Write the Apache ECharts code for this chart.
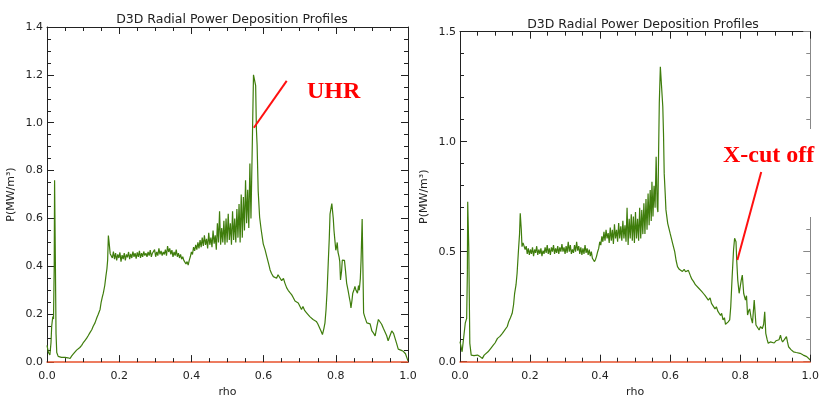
<!DOCTYPE html>
<html>
<head>
<meta charset="utf-8">
<script src="https://cdn.jsdelivr.net/npm/echarts@6/dist/echarts.min.js"></script>
<style>html,body{margin:0;padding:0;background:#fff}#c{width:822px;height:403px}</style>
</head>
<body>
<div id="c"></div>
<script>
const titleText = 'D3D Radial Power Deposition Profiles';
const xName = 'rho';
const yName = 'P(MW/m\u00b3)';
const leftYTicks = [0, 0.2, 0.4, 0.6, 0.8, 1.0, 1.2, 1.4];
const rightYTicks = [0, 0.5, 1.0, 1.5];
const xTicks = [0, 0.2, 0.4, 0.6, 0.8, 1.0];

const leftRho = [0.000,0.004,0.008,0.011,0.013,0.016,0.018,0.020,0.021,0.023,0.025,0.027,0.031,0.040,0.050,0.058,0.064,0.068,0.073,0.078,0.082,0.087,0.091,0.096,0.100,0.105,0.110,0.114,0.119,0.124,0.128,0.133,0.138,0.142,0.147,0.150,0.153,0.156,0.160,0.163,0.166,0.168,0.170,0.172,
0.175,0.178,0.181,0.184,0.187,0.190,0.193,0.196,0.199,0.202,0.205,0.208,0.211,0.214,0.217,0.220,0.223,0.226,0.229,0.232,0.235,0.238,0.241,0.244,0.247,0.250,0.253,0.256,0.259,0.262,0.265,0.268,0.271,0.274,0.277,0.280,0.283,0.286,0.289,0.292,0.295,0.298,0.301,0.304,0.307,0.310,0.313,0.316,0.319,0.322,0.325,0.328,0.331,0.334,0.337,0.340,0.343,0.346,0.349,0.352,0.355,0.358,0.361,0.364,0.367,0.370,0.373,0.376,0.379,0.382,0.385,0.388,0.391,0.394,0.397,0.400,0.403,0.406,0.409,0.412,0.415,0.418,0.421,0.424,0.427,0.430,0.433,0.436,0.439,0.442,0.445,0.448,0.451,0.454,0.457,0.460,0.463,0.466,0.469,0.472,0.475,0.478,0.481,0.484,0.487,0.490,0.493,0.496,0.499,0.502,0.505,0.508,0.511,0.514,0.517,0.520,0.523,0.526,0.529,0.532,0.535,0.538,0.541,0.544,0.547,0.550,0.553,0.556,0.559,0.562,0.565,0.569,0.572,0.576,0.578,0.580,0.582,0.585,0.589,0.593,0.599,0.604,0.609,0.614,0.618,0.622,0.627,0.632,0.636,0.640,0.645,0.650,0.655,0.659,0.664,0.668,0.673,0.678,0.682,0.687,0.691,0.696,0.700,0.705,0.709,0.714,0.719,0.723,0.728,0.732,0.737,0.742,0.746,0.750,0.755,0.759,0.763,0.767,0.770,0.773,0.776,0.779,0.782,0.784,0.787,0.789,0.791,0.793,0.795,0.798,0.800,0.802,0.804,0.806,0.809,0.811,0.813,0.816,0.818,0.821,0.824,0.827,0.830,0.834,0.837,0.840,0.842,0.845,0.847,0.850,0.853,0.856,0.860,0.863,0.865,0.868,0.870,0.873,0.875,0.877,0.880,0.886,0.890,0.895,0.900,0.905,0.909,0.914,0.918,0.922,0.927,0.932,0.936,0.941,0.945,0.950,0.955,0.960,0.964,0.968,0.973,0.980,0.987,0.993,0.996,1.000];
const leftP = [0.07,0.04,0.03,0.08,0.15,0.19,0.18,0.40,0.76,0.45,0.12,0.04,0.024,0.02,0.02,0.018,0.015,0.025,0.034,0.04,0.05,0.055,0.061,0.07,0.08,0.09,0.10,0.11,0.123,0.135,0.15,0.164,0.185,0.20,0.22,0.25,0.27,0.288,0.32,0.357,0.39,0.426,0.529,0.50,
0.453,0.46,0.435,0.462,0.43,0.455,0.425,0.45,0.435,0.458,0.42,0.447,0.43,0.455,0.425,0.45,0.438,0.46,0.43,0.452,0.435,0.462,0.44,0.455,0.432,0.458,0.44,0.465,0.435,0.455,0.44,0.462,0.445,0.455,0.44,0.46,0.445,0.468,0.44,0.455,0.45,0.47,0.44,0.46,0.445,0.475,0.45,0.465,0.445,0.46,0.45,0.47,0.445,0.485,0.46,0.475,0.45,0.468,0.44,0.46,0.445,0.47,0.44,0.455,0.435,0.45,0.43,0.44,0.425,0.43,0.41,0.42,0.405,0.425,0.44,0.46,0.45,0.48,0.465,0.49,0.47,0.50,0.475,0.51,0.48,0.52,0.485,0.53,0.49,0.515,0.475,0.54,0.49,0.52,0.48,0.55,0.495,0.53,0.47,0.58,0.50,0.63,0.49,0.56,0.50,0.59,0.49,0.60,0.50,0.62,0.51,0.58,0.49,0.63,0.51,0.60,0.50,0.64,0.52,0.66,0.50,0.70,0.52,0.69,0.55,0.76,0.58,0.72,0.56,0.83,0.60,0.935,1.20,1.205,1.155,0.976,0.907,0.715,0.605,0.556,0.494,0.47,0.44,0.41,0.385,0.37,0.357,0.36,0.35,0.365,0.37,0.34,0.35,0.33,0.31,0.30,0.29,0.281,0.27,0.255,0.262,0.247,0.24,0.22,0.232,0.215,0.206,0.20,0.19,0.195,0.178,0.178,0.17,0.16,0.165,0.13,0.115,0.14,0.164,0.22,0.30,0.412,0.52,0.618,0.645,0.662,0.655,0.60,0.55,0.50,0.467,0.48,0.50,0.46,0.44,0.42,0.343,0.38,0.426,0.42,0.425,0.38,0.33,0.30,0.274,0.25,0.226,0.26,0.288,0.30,0.316,0.30,0.288,0.32,0.30,0.35,0.426,0.598,0.41,0.206,0.19,0.164,0.17,0.16,0.13,0.12,0.109,0.15,0.178,0.17,0.158,0.14,0.145,0.11,0.089,0.11,0.13,0.12,0.115,0.08,0.054,0.05,0.045,0.035,0.034,0.005];

const rightRho = [0.000,0.006,0.011,0.015,0.019,0.021,0.022,0.025,0.028,0.032,0.040,0.050,0.058,0.064,0.069,0.074,0.080,0.088,0.095,0.100,0.107,0.114,0.121,0.126,0.130,0.135,0.139,0.144,0.149,0.153,0.156,0.160,0.163,0.167,0.170,0.172,0.175,0.177,0.180,0.183,0.186,
0.189,0.192,0.195,0.198,0.201,0.204,0.207,0.210,0.213,0.216,0.219,0.222,0.225,0.228,0.231,0.234,0.237,0.240,0.243,0.246,0.249,0.252,0.255,0.258,0.261,0.264,0.267,0.270,0.273,0.276,0.279,0.282,0.285,0.288,0.291,0.294,0.297,0.300,0.303,0.306,0.309,0.312,0.315,0.318,0.321,0.324,0.327,0.330,0.333,0.336,0.339,0.342,0.345,0.348,0.351,0.354,0.357,0.360,0.363,0.366,0.369,0.372,0.375,0.378,0.381,0.384,0.387,0.390,0.393,0.396,0.399,0.402,0.405,0.408,0.411,0.414,0.417,0.420,0.423,0.426,0.429,0.432,0.435,0.438,0.441,0.444,0.447,0.450,0.453,0.456,0.459,0.462,0.465,0.468,0.471,0.474,0.477,0.480,0.483,0.486,0.489,0.492,0.495,0.498,0.501,0.504,0.507,0.510,0.513,0.516,0.519,0.522,0.525,0.528,0.531,0.534,0.537,0.540,0.543,0.546,0.548,0.551,0.554,0.557,0.560,0.563,0.565,0.567,0.569,0.572,0.576,0.579,0.581,0.583,0.586,0.588,0.593,0.600,0.607,0.613,0.617,0.621,0.626,0.630,0.635,0.640,0.644,0.648,0.652,0.658,0.662,0.667,0.672,0.677,0.681,0.686,0.690,0.695,0.700,0.705,0.709,0.714,0.718,0.723,0.728,0.732,0.736,0.740,0.744,0.747,0.751,0.755,0.758,0.761,0.765,0.770,0.773,0.777,0.781,0.784,0.788,0.790,0.793,0.797,0.800,0.803,0.806,0.810,0.815,0.818,0.821,0.824,0.827,0.831,0.835,0.840,0.845,0.850,0.854,0.858,0.863,0.867,0.870,0.873,0.877,0.880,0.886,0.891,0.897,0.902,0.906,0.911,0.915,0.918,0.921,0.926,0.932,0.935,0.938,0.945,0.952,0.960,0.971,0.980,0.990,1.000];
const rightP = [0.091,0.045,0.038,0.175,0.197,0.40,0.727,0.52,0.084,0.03,0.028,0.03,0.022,0.015,0.03,0.038,0.045,0.061,0.075,0.085,0.106,0.115,0.129,0.14,0.135,0.16,0.182,0.20,0.22,0.26,0.311,0.35,0.402,0.508,0.58,0.675,0.60,0.523,0.54,0.545,0.51,
0.525,0.49,0.515,0.485,0.51,0.49,0.52,0.48,0.51,0.495,0.525,0.485,0.51,0.49,0.515,0.48,0.505,0.49,0.52,0.495,0.53,0.49,0.515,0.485,0.52,0.50,0.53,0.49,0.515,0.495,0.525,0.49,0.52,0.50,0.535,0.50,0.52,0.49,0.525,0.495,0.545,0.50,0.53,0.49,0.51,0.495,0.53,0.50,0.545,0.505,0.525,0.49,0.52,0.485,0.515,0.49,0.53,0.495,0.515,0.485,0.51,0.48,0.50,0.47,0.475,0.455,0.465,0.48,0.50,0.515,0.545,0.53,0.57,0.545,0.59,0.55,0.60,0.56,0.585,0.54,0.61,0.55,0.60,0.535,0.625,0.56,0.60,0.545,0.63,0.56,0.615,0.55,0.64,0.56,0.62,0.545,0.70,0.53,0.65,0.56,0.67,0.55,0.66,0.54,0.68,0.56,0.65,0.55,0.70,0.56,0.69,0.58,0.72,0.58,0.74,0.60,0.765,0.62,0.78,0.64,0.818,0.66,0.80,0.70,0.932,0.705,0.68,0.95,1.175,1.341,1.34,1.159,1.038,0.856,0.76,0.69,0.629,0.583,0.538,0.50,0.46,0.432,0.42,0.417,0.41,0.42,0.409,0.40,0.415,0.39,0.375,0.364,0.35,0.345,0.335,0.334,0.32,0.31,0.30,0.295,0.28,0.29,0.265,0.265,0.24,0.25,0.23,0.235,0.21,0.22,0.19,0.20,0.17,0.167,0.18,0.19,0.25,0.386,0.508,0.561,0.545,0.462,0.371,0.311,0.34,0.371,0.394,0.31,0.28,0.30,0.212,0.23,0.24,0.20,0.175,0.28,0.167,0.16,0.144,0.16,0.15,0.17,0.227,0.129,0.10,0.084,0.09,0.091,0.085,0.095,0.099,0.10,0.121,0.10,0.09,0.10,0.114,0.09,0.068,0.055,0.045,0.042,0.038,0.03,0.023,0.008];

const uhrLine = [[0.664, 1.175], [0.573, 0.979]];
const xcutLine = [[0.860, 0.862], [0.792, 0.462]];

const FONT = 'DejaVu Sans';
const lineColor = '#3f7d0c';
const fmt1 = v => v.toFixed(1);

function xAxes(grid) {
  return [
    { gridIndex: grid, type: 'value', position: 'bottom', min: 0, max: 1, interval: 0.2,
      name: xName, nameLocation: 'middle', nameGap: 21,
      nameTextStyle: { fontFamily: FONT, fontSize: 11, color: '#222' },
      axisLine: { show: true, onZero: false, lineStyle: { color: '#e8512c', width: 1.5 } },
      axisTick: { show: true, inside: true, length: 7, lineStyle: { color: '#222' } },
      minorTick: { show: true, splitNumber: 4, length: 4, lineStyle: { color: '#222' } },
      axisLabel: { formatter: fmt1, fontFamily: FONT, fontSize: 11, color: '#222', margin: 9 },
      splitLine: { show: false }, z: 3 },
    { gridIndex: grid, type: 'value', position: 'top', min: 0, max: 1, interval: 0.2,
      axisLine: { show: true, onZero: false, lineStyle: { color: '#222' } },
      axisTick: { show: true, inside: true, length: 7, lineStyle: { color: '#222' } },
      minorTick: { show: true, splitNumber: 4, length: 4, lineStyle: { color: '#222' } },
      axisLabel: { show: false }, splitLine: { show: false } }
  ];
}
function yAxes(grid, max, interval, minorSplit, rightColor) {
  return [
    { gridIndex: grid, type: 'value', position: 'left', min: 0, max: max, interval: interval,
      name: yName, nameLocation: 'middle', nameGap: 30, nameRotate: 90,
      nameTextStyle: { fontFamily: FONT, fontSize: 11, color: '#222' },
      axisLine: { show: true, onZero: false, lineStyle: { color: '#222' } },
      axisTick: { show: true, inside: true, length: 7, lineStyle: { color: '#222' } },
      minorTick: { show: true, splitNumber: minorSplit, length: 4, lineStyle: { color: '#222' } },
      axisLabel: { formatter: fmt1, fontFamily: FONT, fontSize: 11, color: '#222', margin: 4 },
      splitLine: { show: false } },
    { gridIndex: grid, type: 'value', position: 'right', min: 0, max: max, interval: interval,
      axisLine: { show: true, onZero: false, lineStyle: { color: rightColor } },
      axisTick: { show: true, inside: true, length: 7, lineStyle: { color: rightColor } },
      minorTick: { show: true, splitNumber: minorSplit, length: 4, lineStyle: { color: rightColor } },
      axisLabel: { show: false }, splitLine: { show: false } }
  ];
}

const chart = echarts.init(document.getElementById('c'), null, { renderer: 'canvas' });
const option = {
  animation: false,
  backgroundColor: '#fff',
  title: [
    { text: titleText, left: 227, top: 8, textAlign: 'center',
      textStyle: { fontFamily: FONT, fontSize: 12.5, fontWeight: 'normal', color: '#222' } },
    { text: titleText, left: 638, top: 13, textAlign: 'center',
      textStyle: { fontFamily: FONT, fontSize: 12.5, fontWeight: 'normal', color: '#222' } }
  ],
  grid: [
    { left: 47, top: 27, width: 361, height: 339.5 },
    { left: 460, top: 31.7, width: 357, height: 330 }
  ],
  xAxis: [...xAxes(0), ...xAxes(1)],
  yAxis: [...yAxes(0, 1.4, 0.2, 4, '#222'), ...yAxes(1, 1.5, 0.5, 5, '#888')],
  series: [
    { type: 'line', xAxisIndex: 0, yAxisIndex: 0, showSymbol: false, symbol: 'none',
      lineStyle: { color: lineColor, width: 1.2 }, z: 2,
      data: leftRho.map((r, i) => [r, leftP[i]]) },
    { type: 'line', xAxisIndex: 2, yAxisIndex: 2, showSymbol: false, symbol: 'none',
      lineStyle: { color: lineColor, width: 1.2 }, z: 2,
      data: rightRho.map((r, i) => [r, rightP[i]]) }
  ]
};
chart.setOption(option);

const p = (gi, pt) => chart.convertToPixel({ gridIndex: gi }, pt);
const u0 = p(0, uhrLine[0]), u1 = p(0, uhrLine[1]);
const x0 = p(1, xcutLine[0]), x1 = p(1, xcutLine[1]);
chart.setOption({
  graphic: [
    { type: 'rect', shape: { x: 701, y: 129, width: 121, height: 88 }, style: { fill: '#fff' }, z: 50 },
    { type: 'line', shape: { x1: u0[0], y1: u0[1], x2: u1[0], y2: u1[1] },
      style: { stroke: '#ff1010', lineWidth: 2 }, z: 60 },
    { type: 'text', x: 307, y: 92, style: { text: 'UHR', fill: '#ff0000',
      font: 'bold 24px "Liberation Serif", "Times New Roman", serif', verticalAlign: 'middle' }, z: 60 },
    { type: 'line', shape: { x1: x0[0], y1: x0[1], x2: x1[0], y2: x1[1] },
      style: { stroke: '#ff1010', lineWidth: 2 }, z: 60 },
    { type: 'text', x: 723, y: 156, style: { text: 'X-cut off', fill: '#ff0000',
      font: 'bold 24px "Liberation Serif", "Times New Roman", serif', verticalAlign: 'middle' }, z: 60 }
  ]
});
</script>
</body>
</html>
